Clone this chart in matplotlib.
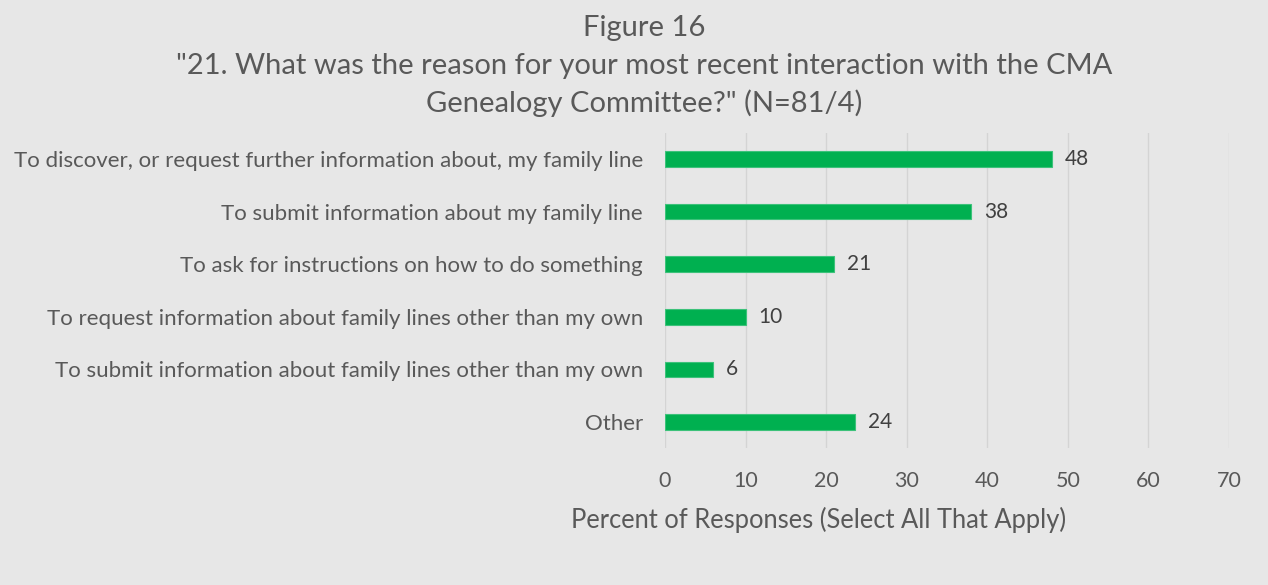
import matplotlib
matplotlib.use("Agg")
import matplotlib.pyplot as plt

categories = [
    "To discover, or request further information about, my family line",
    "To submit information about my family line",
    "To ask for instructions on how to do something",
    "To request information about family lines other than my own",
    "To submit information about family lines other than my own",
    "Other",
]
values = [48, 38, 21, 10, 6, 23.6]
xticks = [0, 10, 20, 30, 40, 50, 60, 70]

BG = "#e7e7e7"
TXT = "#595959"
GREEN = "#00b050"
FONT = "Lato"

plt.rcParams["font.family"] = [FONT, "DejaVu Sans"]

fig = plt.figure(figsize=(12.68, 5.85), dpi=100, facecolor=BG)
ax = fig.add_axes([665/1268, 1-448.3/585, (1229-665)/1268, 315.6/585])
ax.set_facecolor(BG)

ypos = list(range(len(categories)))[::-1]
ax.barh(ypos, values, height=0.3, color=GREEN, edgecolor="#3cc27a", linewidth=0.8, zorder=3)
for y, v in zip(ypos, values):
    ax.text(v + 1.6, y, f"{v:.0f}", va="center", ha="left", fontsize=15, color="#404040")

ax.set_xlim(0, 70)
ax.set_ylim(-0.5, 5.5)
ax.set_xticks(xticks)
ax.set_xticklabels([str(t) for t in xticks])
ax.set_yticks(ypos)
ax.set_yticklabels(categories)
ax.tick_params(axis="x", length=0, pad=16, labelsize=15.5, labelcolor=TXT)
ax.tick_params(axis="y", length=0, pad=16, labelsize=16, labelcolor=TXT)
ax.grid(axis="x", color="#d4d4d4", linewidth=1, zorder=0)
for s in ax.spines.values():
    s.set_visible(False)

fig.text(819/1268, 1-520/585, "Percent of Responses (Select All That Apply)", ha="center", va="center",
         fontsize=18.4, color=TXT)

# title
cx = 644/1268
fig.text(cx, 1-28/585, "Figure 16", ha="center", va="center", fontsize=21, color=TXT)
fig.text(cx, 1-66/585, "\"21. What was the reason for your most recent interaction with the CMA",
         ha="center", va="center", fontsize=21, color=TXT)
fig.text(cx, 1-103/585, "Genealogy Committee?\" (N=81/4)", ha="center", va="center", fontsize=21, color=TXT)

fig.savefig("out.png", dpi=100, facecolor=BG)
